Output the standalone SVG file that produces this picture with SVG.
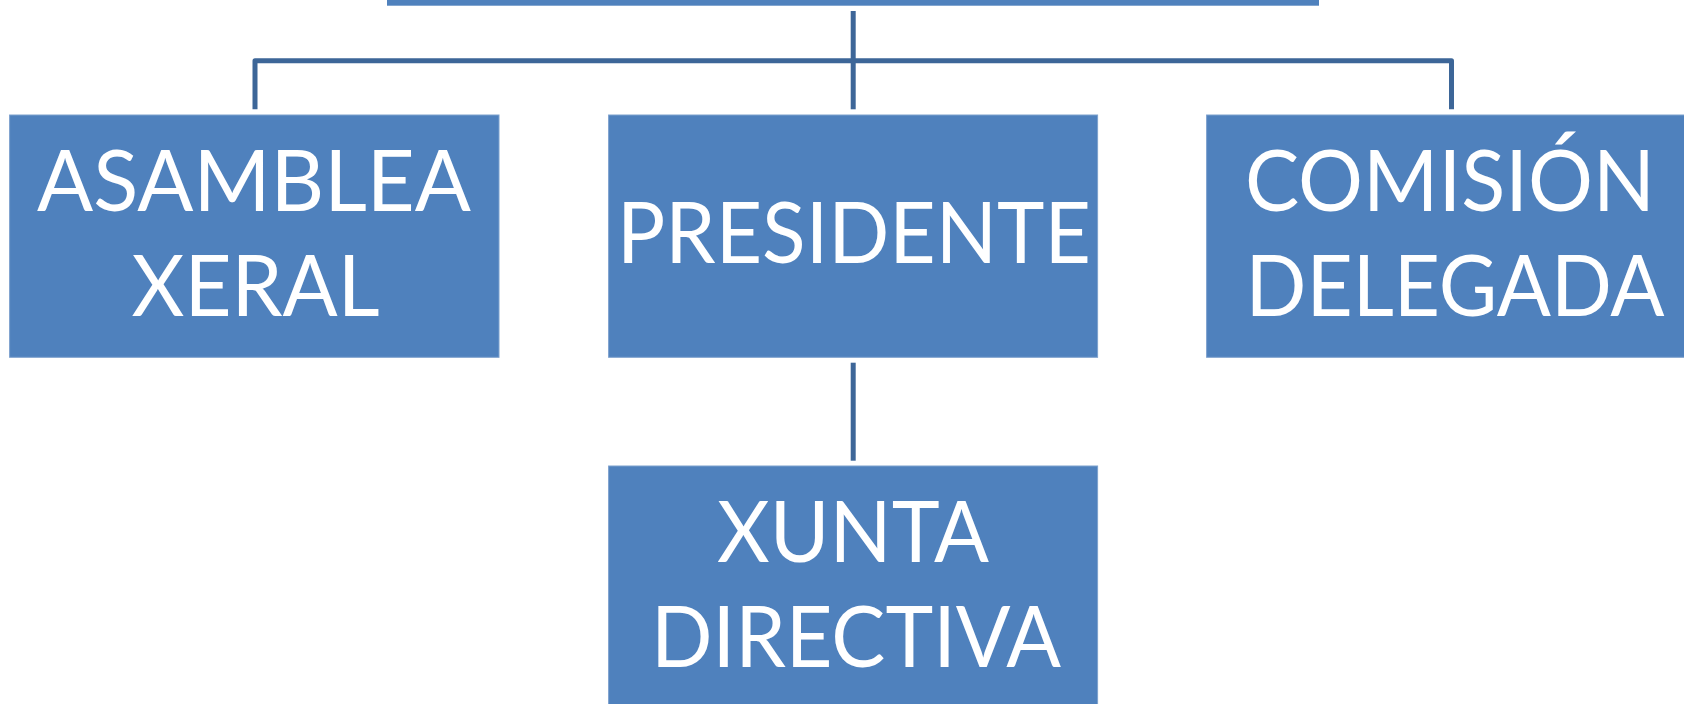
<svg xmlns="http://www.w3.org/2000/svg" width="1684" height="704" viewBox="0 0 1684 704">
<style>
.box{fill:#4F81BD;stroke:#7DA1CE;stroke-width:1}
.lbl{fill:#FFFFFF;font-family:Lato,"Open Sans","Liberation Sans",sans-serif;font-size:85px;text-anchor:middle}
.conn{fill:none;stroke:#3D6698;stroke-width:5;stroke-linejoin:round;stroke-linecap:butt}
</style>
<rect x="387" y="0" width="932" height="5.7" fill="#4F81BD"/>
<g id="connectors">
<path class="conn" d="M255 109.3 V60.7 H1451.5 V109.3"/>
<path class="conn" d="M853.2 11 V109.3"/>
<path class="conn" d="M853.2 362.7 V460.7"/>
</g>
<g id="asamblea">
<rect class="box" x="9.6" y="115" width="489.4" height="242.3"/>
<text class="lbl" x="254" y="210.7" textLength="434" lengthAdjust="spacingAndGlyphs">ASAMBLEA</text>
<text class="lbl" x="255.5" y="315.7" textLength="248" lengthAdjust="spacingAndGlyphs">XERAL</text>
</g>
<g id="presidente">
<rect class="box" x="608.6" y="115" width="489" height="242.3"/>
<text class="lbl" x="854" y="263.3" textLength="474" lengthAdjust="spacingAndGlyphs">PRESIDENTE</text>
</g>
<g id="comision">
<rect class="box" x="1206.6" y="115" width="489" height="242.3"/>
<text class="lbl" x="1450" y="210.7" textLength="410" lengthAdjust="spacingAndGlyphs">COMISIÓN</text>
<text class="lbl" x="1455" y="315.7" textLength="419" lengthAdjust="spacingAndGlyphs">DELEGADA</text>
</g>
<g id="xunta">
<rect class="box" x="608.6" y="466" width="489" height="260"/>
<text class="lbl" x="853" y="562.3" textLength="272" lengthAdjust="spacingAndGlyphs">XUNTA</text>
<text class="lbl" x="856" y="667.3" textLength="410" lengthAdjust="spacingAndGlyphs">DIRECTIVA</text>
</g>
</svg>
